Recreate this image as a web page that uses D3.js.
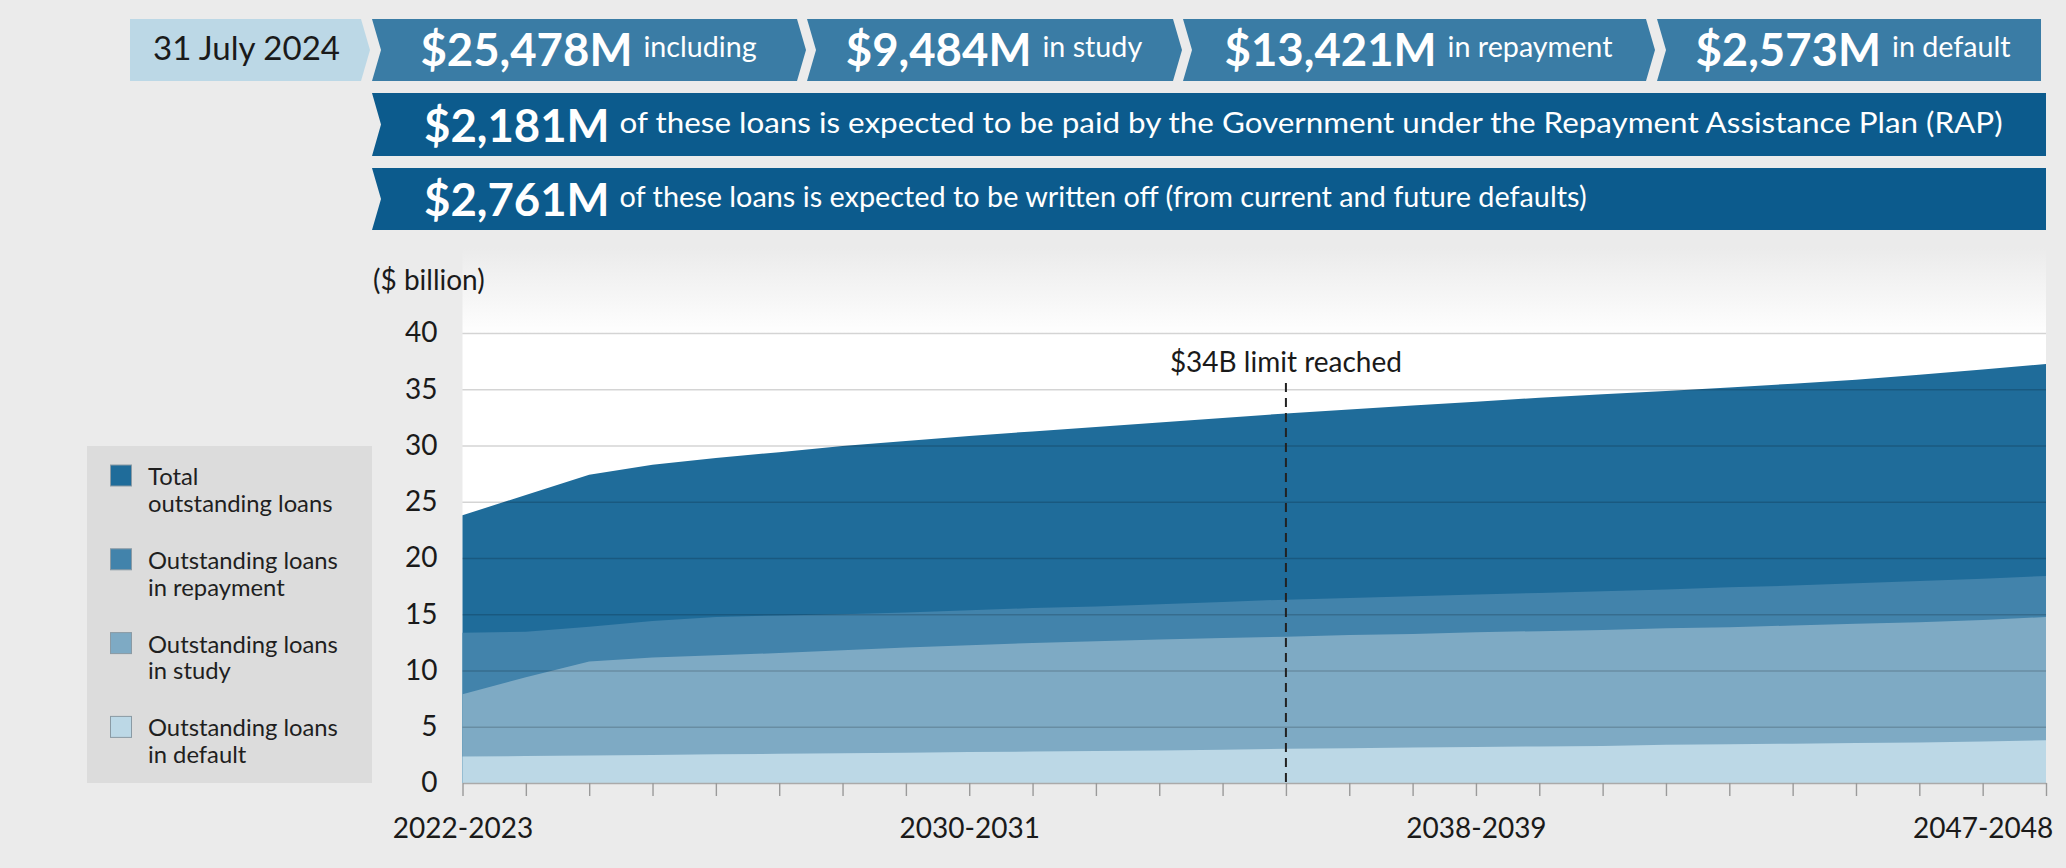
<!DOCTYPE html>
<html>
<head>
<meta charset="utf-8">
<script src="https://cdn.jsdelivr.net/npm/d3@7/dist/d3.min.js"></script>
<style>
  html, body { margin: 0; padding: 0; background: #ebebeb; }
  svg { display: block; font-family: "Lato", "Noto Sans", sans-serif; }
</style>
</head>
<body>
<svg id="chart" width="2066" height="868"></svg>
<script>
// ---------------- DATA ----------------
const categories = [
  "2022-2023","2023-2024","2024-2025","2025-2026","2026-2027","2027-2028",
  "2028-2029","2029-2030","2030-2031","2031-2032","2032-2033","2033-2034",
  "2034-2035","2035-2036","2036-2037","2037-2038","2038-2039","2039-2040",
  "2040-2041","2041-2042","2042-2043","2043-2044","2044-2045","2045-2046",
  "2046-2047","2047-2048"
];
// $ billion
const totalLoans = [23.8, 25.6, 27.4, 28.3, 28.9, 29.4, 29.95, 30.4, 30.85, 31.25, 31.65, 32.05, 32.45,
                    32.85, 33.2, 33.55, 33.9, 34.25, 34.55, 34.85, 35.15, 35.5, 35.85, 36.3, 36.75, 37.25];
const repaymentLoans = [13.35, 13.45, 13.9, 14.4, 14.75, 14.9, 15.0, 15.15, 15.35, 15.55, 15.7, 15.9, 16.1,
                        16.3, 16.45, 16.6, 16.75, 16.9, 17.05, 17.2, 17.4, 17.55, 17.75, 17.95, 18.15, 18.4];
const studyLoans = [7.9, 9.4, 10.8, 11.15, 11.35, 11.55, 11.8, 12.05, 12.25, 12.45, 12.6, 12.75, 12.9,
                    13.0, 13.15, 13.25, 13.4, 13.5, 13.6, 13.75, 13.85, 14.0, 14.15, 14.3, 14.5, 14.75];
const defaultLoans = [2.35, 2.4, 2.45, 2.5, 2.55, 2.6, 2.65, 2.7, 2.75, 2.8, 2.85, 2.9, 2.95,
                      3.05, 3.1, 3.15, 3.2, 3.25, 3.3, 3.4, 3.45, 3.5, 3.55, 3.6, 3.7, 3.8];

const seriesNames = ["Total\noutstanding loans", "Outstanding loans\nin repayment",
                     "Outstanding loans\nin study", "Outstanding loans\nin default"];
const yTicks = [0, 5, 10, 15, 20, 25, 30, 35, 40];
const xTickLabels = ["2022-2023", "2030-2031", "2038-2039", "2047-2048"];
const xLabelTicks = ["2022-2023", "2030-2031", "2038-2039", "2046-2047"]; // tick each label sits on
const limitCategory = "2035-2036";
const limitLabel = "$34B limit reached";
const yTitle = "($ billion)";

const headerDate = "31 July 2024";
const summaryAmounts = ["$25,478M", "$9,484M", "$13,421M", "$2,573M"];
const summaryNotes = ["including", "in study", "in repayment", "in default"];
const noteAmounts = ["$2,181M", "$2,761M"];
const noteTexts = [
  "of these loans is expected to be paid by the Government under the Repayment Assistance Plan (RAP)",
  "of these loans is expected to be written off (from current and future defaults)"
];

// ---------------- STYLE ----------------
const colors = ["#1f6c9a", "#4283ab", "#7eaac4", "#bcd8e6"];
const svg = d3.select("#chart");
const W = 2066, H = 868;
const plot = { left: 462.5, right: 2046, top: 333, bottom: 783 };

svg.append("rect").attr("width", W).attr("height", H).attr("fill", "#ebebeb");

// ---------------- HEADER ----------------
function chevron(x0, x1, y0, y1, notch, point, d) {
  const ym = (y0 + y1) / 2;
  return `M${x0},${y0}L${x1},${y0}L${point ? x1 + d : x1},${ym}L${x1},${y1}L${x0},${y1}L${notch ? x0 + d : x0},${ym}Z`;
}
const D = 9;
const row1 = { y0: 19, y1: 81 };
// date box
svg.append("path").attr("d", chevron(130, 361, row1.y0, row1.y1, false, true, D)).attr("fill", "#bcd8e6");
svg.append("text").attr("x", 153).attr("y", 60).attr("font-size", 32).attr("fill", "#1a1a1a")
  .attr("textLength", 187).attr("lengthAdjust", "spacingAndGlyphs").text(headerDate);

const boxes1 = [[372, 797, true], [807, 1173, true], [1183, 1646, true], [1657, 2041, false]];
boxes1.forEach((b, i) => {
  svg.append("path").attr("d", chevron(b[0], b[1], row1.y0, row1.y1, true, b[2], D)).attr("fill", "#3a7ca5");
  const g = svg.append("g");
  const t1 = g.append("text").attr("y", 66).attr("font-size", 45.5).attr("font-weight", 700)
    .attr("fill", "#fff").text(summaryAmounts[i]);
  const w1 = t1.node().getComputedTextLength();
  const t2 = g.append("text").attr("x", w1 + 11).attr("y", 57).attr("font-size", 28.7)
    .attr("fill", "#fff").text(summaryNotes[i]);
  const w2 = t2.node().getComputedTextLength();
  const total = w1 + 11 + w2;
  const cx = (b[0] + b[1]) / 2 + 4;
  g.attr("transform", `translate(${cx - total / 2},0)`);
});

const rows23 = [{ y0: 93, y1: 156 }, { y0: 168, y1: 230 }];
const noteWidths = [1383, 967];
rows23.forEach((r, i) => {
  svg.append("path").attr("d", chevron(372, 2046, r.y0, r.y1, true, false, D)).attr("fill", "#0c5b8d");
  const cy = (r.y0 + r.y1) / 2;
  const t1 = svg.append("text").attr("x", 424).attr("y", cy + 17).attr("font-size", 45.5)
    .attr("font-weight", 700).attr("fill", "#fff").text(noteAmounts[i]);
  const w1 = t1.node().getComputedTextLength();
  svg.append("text").attr("x", 424 + w1 + 10).attr("y", cy + 8).attr("font-size", 29)
    .attr("fill", "#fff").attr("textLength", noteWidths[i]).attr("lengthAdjust", "spacingAndGlyphs")
    .text(noteTexts[i]);
});

// ---------------- CHART ----------------
const x = d3.scalePoint().domain(categories).range([plot.left, plot.right]);
const y = d3.scaleLinear().domain([0, 40]).range([plot.bottom, plot.top]);

const defs = svg.append("defs");
const grad = defs.append("linearGradient").attr("id", "topfade").attr("x1", 0).attr("x2", 0).attr("y1", 0).attr("y2", 1);
grad.append("stop").attr("offset", "0%").attr("stop-color", "#ebebeb");
grad.append("stop").attr("offset", "100%").attr("stop-color", "#fefefe");
svg.append("rect").attr("x", plot.left).attr("y", 248).attr("width", plot.right - plot.left)
  .attr("height", plot.top - 248).attr("fill", "url(#topfade)");
svg.append("rect").attr("x", plot.left).attr("y", plot.top).attr("width", plot.right - plot.left)
  .attr("height", plot.bottom - plot.top).attr("fill", "#ffffff");

const seriesData = [totalLoans, repaymentLoans, studyLoans, defaultLoans];
const area = d3.area()
  .x((d, i) => x(categories[i]))
  .y0(y(0))
  .y1(d => y(d));
seriesData.forEach((s, i) => {
  svg.append("path").datum(s).attr("d", area).attr("fill", colors[i]);
});

// gridlines on top
const grid = svg.append("g").attr("transform", `translate(${plot.left},0)`)
  .call(d3.axisLeft(y).tickValues(yTicks.filter(v => v > 0)).tickSize(-(plot.right - plot.left)).tickFormat(""));
grid.select(".domain").remove();
grid.selectAll(".tick line").attr("stroke", "rgba(0,0,0,0.17)").attr("stroke-width", 1.5);

// y labels
const yAxis = svg.append("g").attr("transform", `translate(${plot.left},0)`)
  .call(d3.axisLeft(y).tickValues(yTicks).tickSize(0).tickPadding(25));
yAxis.select(".domain").remove();
yAxis.selectAll("text").attr("font-size", 28).attr("font-family", "Lato").attr("fill", "#1a1a1a");

svg.append("text").attr("x", 373).attr("y", 290).attr("font-size", 28).attr("fill", "#1a1a1a").text(yTitle);

// x axis
const xAxis = svg.append("g").attr("transform", `translate(0,${plot.bottom})`)
  .call(d3.axisBottom(x).tickSize(13).tickSizeOuter(0).tickPadding(22)
    .tickFormat(d => { const k = xLabelTicks.indexOf(d); return k >= 0 ? xTickLabels[k] : ""; }));
xAxis.select(".domain").attr("stroke", "#aaaaaa").attr("stroke-width", 1.5);
xAxis.selectAll(".tick line").attr("stroke", "#9a9a9a").attr("stroke-width", 1.4);
xAxis.selectAll("text").attr("font-size", 28).attr("font-family", "Lato").attr("fill", "#1a1a1a");

// limit line
const lx = x(limitCategory);
svg.append("line").attr("x1", lx).attr("x2", lx).attr("y1", 383).attr("y2", plot.bottom)
  .attr("stroke", "#222").attr("stroke-width", 2).attr("stroke-dasharray", "9,6");
svg.append("text").attr("x", lx).attr("y", 372).attr("text-anchor", "middle").attr("font-size", 28)
  .attr("fill", "#1a1a1a").text(limitLabel);

// legend
svg.append("rect").attr("x", 87).attr("y", 446).attr("width", 285).attr("height", 337).attr("fill", "#dcdcdc");
seriesNames.forEach((name, i) => {
  const top = 465 + i * 83.8;
  svg.append("rect").attr("x", 110.5).attr("y", top).attr("width", 21).attr("height", 21)
    .attr("fill", colors[i]).attr("stroke", "#8a9aa4").attr("stroke-width", 1);
  const lines = name.split("\n");
  lines.forEach((ln, j) => {
    svg.append("text").attr("x", 148).attr("y", top + 20 + j * 26.7).attr("font-size", 23.8)
      .attr("fill", "#1f1f1f").text(ln);
  });
});
</script>
</body>
</html>
